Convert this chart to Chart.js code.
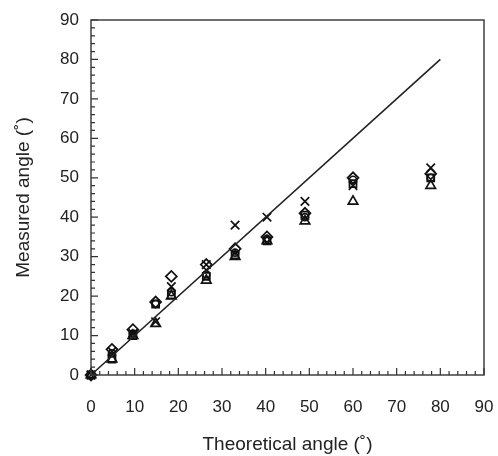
<!DOCTYPE html>
<html>
<head>
<meta charset="utf-8">
<script src="https://cdn.jsdelivr.net/npm/chart.js@4/dist/chart.umd.min.js"></script>
<style>
  html, body { margin: 0; padding: 0; background: #fff; }
  #wrap { width: 498px; height: 456px; }
</style>
</head>
<body>
<div id="wrap"><canvas id="angleChart" width="498" height="456"></canvas></div>
<script>
// Data
const theoretical = [0, 4.8, 9.6, 14.8, 18.4, 26.4, 33, 40.3, 49, 60, 77.8];
const diamondVals = [0, 6.5, 11.5, 18.5, 25, 28, 32, 35, 41, 50, 51];
const crossVals = [0, 6, 10.5, 13.5, 22.4, 28, 38, 40, 44, 48, 52.5];
const triangleVals = [0, 4, 10, 13, 20, 24, 30, 34, 39, 44, 48];
const squareVals = [0, 4, 10, 18, 20.3, 25, 30.5, 34, 40.5, 48.5, 50];
const circleVals = [0, 5.5, 10.5, 18, 21, 25.5, 31, 34.5, 40, 49.5, 50];
const idealLine = [0, 80];
const tickValues = [0, 10, 20, 30, 40, 50, 60, 70, 80, 90];

const toPoints = vals => vals.map((v, i) => ({ x: theoretical[i], y: v }));

function markerSet(label, vals, style, radius) {
    return {
        type: 'scatter',
        label,
        data: toPoints(vals),
        pointStyle: style,
        pointRadius: radius,
        borderColor: '#111',
        backgroundColor: 'rgba(255,255,255,0)',
        borderWidth: 1.7
    };
}

// frame + inward minor/major ticks
const frameTicks = {
    id: 'frameTicks',
    afterDraw(chart) {
        const { ctx, chartArea: a, scales: { x, y } } = chart;
        ctx.save();
        ctx.strokeStyle = '#333';
        ctx.lineWidth = 1.4;
        ctx.strokeRect(a.left, a.top, a.right - a.left, a.bottom - a.top);
        ctx.lineWidth = 1.2;
        ctx.beginPath();
        for (let v = 0; v <= 90; v += 2) {
            const len = v % 10 === 0 ? 7 : 4;
            const py = y.getPixelForValue(v);
            ctx.moveTo(a.left, py);
            ctx.lineTo(a.left + len, py);
            const px = x.getPixelForValue(v);
            ctx.moveTo(px, a.bottom);
            ctx.lineTo(px, a.bottom - len);
        }
        ctx.stroke();
        ctx.restore();
    }
};

const tickFont = { family: 'Liberation Sans, Arial, sans-serif', size: 17 };
const titleFont = { family: 'Liberation Sans, Arial, sans-serif', size: 19 };

new Chart(document.getElementById('angleChart'), {
    type: 'scatter',
    data: {
        datasets: [
            {
                type: 'line',
                label: 'ideal',
                data: idealLine.map(v => ({ x: v, y: v })),
                borderColor: '#222',
                borderWidth: 1.6,
                pointRadius: 0,
                fill: false
            },
            markerSet('diamond', diamondVals, 'rectRot', 5.5),
            markerSet('cross', crossVals, 'crossRot', 6),
            markerSet('triangle', triangleVals, 'triangle', 5.5),
            markerSet('square', squareVals, 'rect', 5),
            markerSet('circle', circleVals, 'circle', 3.5)
        ]
    },
    options: {
        responsive: false,
        animation: false,
        clip: false,
        layout: { padding: { left: 0, right: 14, top: 20, bottom: 0 } },
        plugins: { legend: { display: false }, tooltip: { enabled: false } },
        scales: {
            x: {
                type: 'linear',
                min: 0,
                max: 90,
                afterFit: s => { s.height = 81; s.paddingLeft = 0; s.paddingRight = 0; },
                afterBuildTicks: s => { s.ticks = tickValues.map(v => ({ value: v })); },
                grid: { display: false, drawTicks: false },
                border: { display: false },
                ticks: { font: tickFont, color: '#222', padding: 22, maxRotation: 0 },
                title: {
                    display: true,
                    text: 'Theoretical angle (˚)',
                    font: titleFont,
                    color: '#222',
                    padding: { top: 9, bottom: 0 }
                }
            },
            y: {
                type: 'linear',
                min: 0,
                max: 90,
                afterFit: s => { s.width = 91; s.paddingTop = 0; s.paddingBottom = 0; },
                afterBuildTicks: s => { s.ticks = tickValues.map(v => ({ value: v })); },
                grid: { display: false, drawTicks: false },
                border: { display: false },
                ticks: { font: tickFont, color: '#222', padding: 12 },
                title: {
                    display: true,
                    text: 'Measured angle (˚)',
                    font: titleFont,
                    color: '#222',
                    padding: { top: 12, bottom: 0 }
                }
            }
        }
    },
    plugins: [frameTicks]
});
</script>
</body>
</html>
